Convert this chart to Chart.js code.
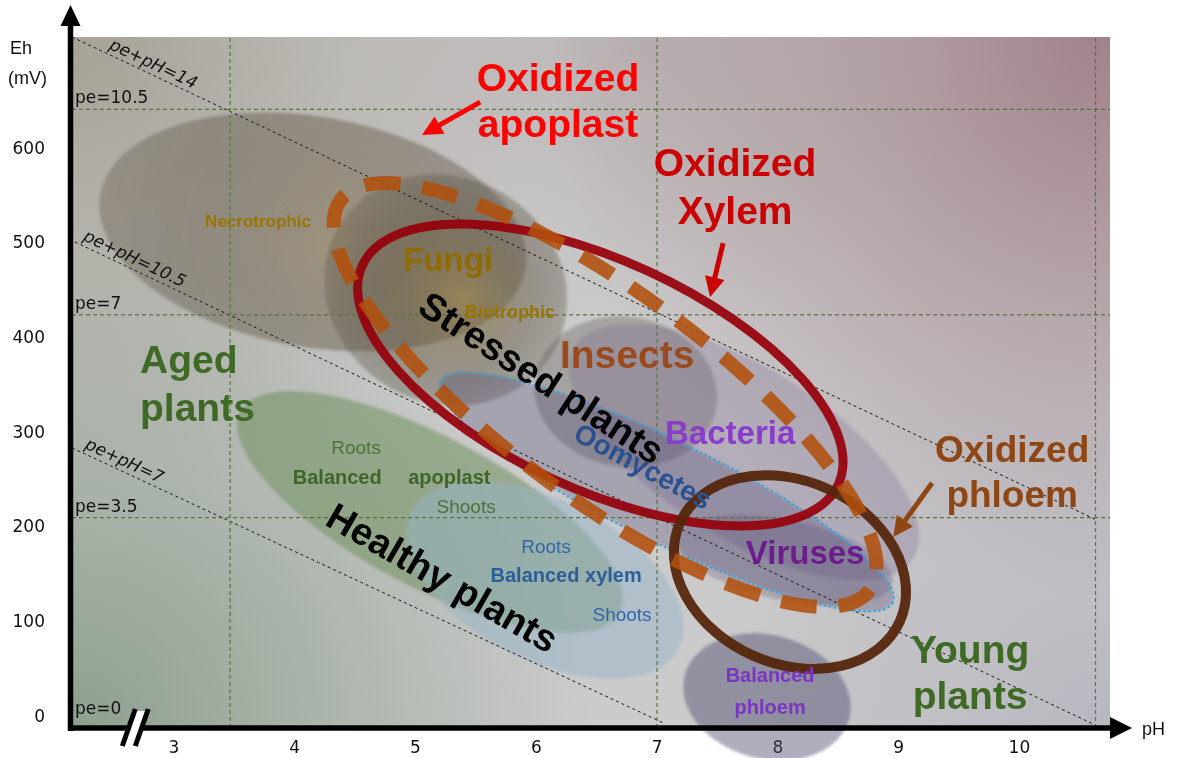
<!DOCTYPE html>
<html>
<head>
<meta charset="utf-8">
<script src="https://cdn.jsdelivr.net/npm/chart.js@4.4.0/dist/chart.umd.min.js"></script>
<style>
  html, body { margin: 0; padding: 0; background: #fff; }
  #wrap { width: 1178px; height: 758px; }
</style>
</head>
<body>
<div id="wrap"><canvas id="chart" width="1178" height="758"></canvas></div>
<script>
// axis ranges and ticks
const phRange = [2.156, 10.75];
const ehRange = [-11.2, 718.5];
const phTicks = [3, 4, 5, 6, 7, 8, 9, 10];
const ehTicks = [0, 100, 200, 300, 400, 500, 600];

// pe = constant guide lines (Eh, mV)
const peNames = ["pe=10.5", "pe=7", "pe=3.5", "pe=0"];
const peEh = [642, 425, 211, -11.2];
// vertical guide lines (pH)
const guidePH = [3.465, 7.0, 10.63];

// pe + pH = constant lines, start and end points
const diagNames = ["pe+pH=14", "pe+pH=10.5", "pe+pH=7"];
const diagStartPH = [2.156, 2.181, 2.156];
const diagStartEh = [718.5, 502, 284.6];
const diagEndPH = [10.64, 10.61, 7.05];
const diagEndEh = [208.4, -7, -5.7];

// regions: centre, end of major axis, end of minor axis (pH, Eh)
const regionNames = ["necrotrophic", "fungi", "insects", "bacteria", "oomycetes", "viruses",
  "apoplastBal", "xylemBal", "phloemBal", "xylemOx", "phloemOx", "apoplastOx"];
const regionPH = [4.15, 5.25, 6.74, 7.72, 7.08, 8.06, 5.12, 6.07, 7.91, 6.53, 8.10, 6.57];
const regionEh = [512.6, 451.3, 343.6, 280.0, 238.0, 166.2, 216.9, 145.1, 21.5, 361.6, 153.5, 340.4];
const majorPH = [5.91, 6.14, 7.49, 9.12, 8.95, 8.95, 6.69, 7.18, 8.59, 8.50, 9.01, 8.76];
const majorEh = [473.2, 385.3, 326.7, 168.0, 121.4, 142.0, 110.3, 73.2, -1.7, 245.9, 101.4, 134.4];
const minorPH = [3.99, 4.78, 6.63, 7.35, 6.89, 7.99, 4.83, 5.77, 7.78, 6.13, 7.79, 6.06];
const minorEh = [392.9, 348.9, 265.6, 203.9, 190.6, 124.9, 147.0, 69.8, -41.7, 252.2, 65.5, 252.9];

// callout arrows
const arrowFromPH = [5.535, 7.547, 9.277];
const arrowFromEh = [649.8, 500.9, 247.5];
const arrowToPH = [5.054, 7.439, 8.955];
const arrowToEh = [615.0, 443.9, 190.5];
const arrowColors = ["#ff0000", "#cc0000", "#8e4614"];

const regionStyle = {
  necrotrophic: { fill: "rgba(108,98,84,0.4)", core: "rgba(165,128,50,0.22)" },
  fungi: { fill: "rgba(100,90,72,0.34)", core: "rgba(175,135,45,0.42)" },
  insects: { fill: "rgba(88,80,76,0.32)" },
  bacteria: { fill: "rgba(118,100,145,0.28)" },
  oomycetes: { fill: "rgba(60,50,105,0.26)", stroke: "#1ea5ea", width: 2, dash: [2, 3] },
  viruses: { fill: "rgba(90,80,110,0.28)" },
  apoplastBal: { fill: "rgba(105,140,85,0.5)" },
  xylemBal: { fill: "rgba(150,180,200,0.5)" },
  phloemBal: { fill: "rgba(75,75,110,0.45)" },
  xylemOx: { stroke: "rgba(150,0,10,0.92)", width: 9 },
  phloemOx: { stroke: "rgba(85,38,12,0.95)", width: 10 },
  apoplastOx: { stroke: "rgba(178,80,12,0.88)", width: 14, dash: [36, 22] }
};

const sans = "\"Liberation Sans\", Arial, sans-serif";
const dejavu = "\"DejaVu Sans\", sans-serif";

// text labels: text, pH, Eh, font, colour, rotation (deg), align
const labels = [
  ["Oxidized", 6.18, 673, "bold 39px", "#ff0000", 0],
  ["apoplast", 6.18, 624.5, "bold 39px", "#ff0000", 0],
  ["Oxidized", 7.646, 583.3, "bold 39px", "#cc0000", 0],
  ["Xylem", 7.646, 532.6, "bold 39px", "#cc0000", 0],
  ["Oxidized", 9.94, 280.3, "bold 37px", "#8e4614", 0],
  ["phloem", 9.94, 232.7, "bold 37px", "#8e4614", 0],
  ["Necrotrophic", 3.696, 523.1, "bold 17px", "#9a7400", 0],
  ["Fungi", 5.27, 480.9, "bold 33px", "#8f6b00", 0],
  ["Biotrophic", 5.783, 427, "bold 18px", "#9a7400", 0],
  ["Insects", 6.752, 380.6, "bold 39px", "#9a4a1c", 0],
  ["Bacteria", 7.605, 298.2, "bold 33px", "#8a3ccc", 0],
  ["Oomycetes", 6.876, 263.4, "bold 28px", "#29508f", 28],
  ["Viruses", 8.226, 171.5, "bold 33px", "#6c1c8c", 0],
  ["Stressed plants", 6.031, 356.3, "bold 38px", "#000000", 33],
  ["Healthy plants", 5.212, 145.1, "bold 38px", "#000000", 30],
  ["Aged", 2.719, 375.3, "bold 39px", "#3e6a26", 0, "left"],
  ["plants", 2.719, 324.6, "bold 39px", "#3e6a26", 0, "left"],
  ["Young", 9.592, 69.1, "bold 39px", "#3e6a26", 0],
  ["plants", 9.592, 20.5, "bold 39px", "#3e6a26", 0],
  ["Roots", 4.508, 283.4, "19px", "#4d7339", 0],
  ["Balanced", 4.352, 252.8, "bold 20px", "#3f6528", 0],
  ["apoplast", 5.28, 252.8, "bold 20px", "#3f6528", 0],
  ["Shoots", 5.419, 221.1, "19px", "#4d7339", 0],
  ["Roots", 6.081, 178.9, "19px", "#3466a6", 0],
  ["Balanced xylem", 6.247, 148.3, "bold 20px", "#2a5f9a", 0],
  ["Shoots", 6.71, 107.1, "19px", "#3466a6", 0],
  ["Balanced", 7.936, 42.7, "bold 20px", "#7b35c0", 0],
  ["phloem", 7.936, 9.9, "bold 20px", "#7b35c0", 0]
];

const datasets = [];
peEh.forEach((eh) => {
  datasets.push({ data: [{ x: phRange[0], y: eh }, { x: phRange[1], y: eh }],
    borderColor: "#5b7341", borderWidth: 1.2, borderDash: [4, 3] });
});
guidePH.forEach((ph) => {
  datasets.push({ data: [{ x: ph, y: ehRange[0] }, { x: ph, y: ehRange[1] }],
    borderColor: "#5b7341", borderWidth: 1.2, borderDash: [4, 3] });
});
diagNames.forEach((name, i) => {
  datasets.push({ data: [{ x: diagStartPH[i], y: diagStartEh[i] }, { x: diagEndPH[i], y: diagEndEh[i] }],
    borderColor: "#1a1a1a", borderWidth: 1, borderDash: [3, 3] });
});
datasets.forEach((d) => { d.showLine = true; d.pointRadius = 0; d.fill = false; });

function regionPath(ctx, i, sx, sy) {
  const cx = sx.getPixelForValue(regionPH[i]);
  const cy = sy.getPixelForValue(regionEh[i]);
  const ax = sx.getPixelForValue(majorPH[i]) - cx;
  const ay = sy.getPixelForValue(majorEh[i]) - cy;
  const bx = sx.getPixelForValue(minorPH[i]) - cx;
  const by = sy.getPixelForValue(minorEh[i]) - cy;
  const a = Math.hypot(ax, ay);
  ctx.beginPath();
  ctx.ellipse(cx, cy, a, Math.hypot(bx, by), Math.atan2(ay, ax), 0, Math.PI * 2);
  return { cx, cy, a };
}

function drawArrow(ctx, x1, y1, x2, y2, color) {
  const ang = Math.atan2(y2 - y1, x2 - x1);
  const head = 18;
  ctx.save();
  ctx.strokeStyle = color;
  ctx.fillStyle = color;
  ctx.lineWidth = 5;
  ctx.beginPath();
  ctx.moveTo(x1, y1);
  ctx.lineTo(x2 - head * Math.cos(ang), y2 - head * Math.sin(ang));
  ctx.stroke();
  ctx.translate(x2, y2);
  ctx.rotate(ang);
  ctx.beginPath();
  ctx.moveTo(0, 0);
  ctx.lineTo(-head - 2, -10);
  ctx.lineTo(-head - 2, 10);
  ctx.closePath();
  ctx.fill();
  ctx.restore();
}

const decor = {
  id: "decor",
  beforeDraw(chart) {
    const { ctx, chartArea: ca } = chart;
    const w = ca.right - ca.left, h = ca.bottom - ca.top;
    ctx.save();
    ctx.fillStyle = "#cbcbcb";
    ctx.fillRect(ca.left, ca.top, w, h);
    const spots = [
      [ca.right, ca.top, 560, "rgba(150,112,122,0.8)"],
      [ca.left + w * 0.55, ca.top, 300, "rgba(165,150,152,0.45)"],
      [ca.left, ca.top, 480, "rgba(150,144,128,0.7)"],
      [ca.left, ca.bottom, 520, "rgba(122,145,122,0.75)"],
      [ca.right, ca.bottom, 420, "rgba(165,165,182,0.5)"]
    ];
    spots.forEach(([x, y, r, c]) => {
      const g = ctx.createRadialGradient(x, y, 0, x, y, r);
      g.addColorStop(0, c);
      g.addColorStop(1, c.replace(/[\d.]+\)$/, "0)"));
      ctx.fillStyle = g;
      ctx.fillRect(ca.left, ca.top, w, h);
    });
    ctx.restore();
  },
  beforeDatasetsDraw(chart) {
    const { ctx, scales: { x, y } } = chart;
    ctx.save();
    ctx.filter = "blur(1.5px)";
    regionNames.forEach((name, i) => {
      const st = regionStyle[name];
      if (!st.fill) return;
      const p = regionPath(ctx, i, x, y);
      ctx.fillStyle = st.fill;
      ctx.fill();
      if (st.core) {
        const g = ctx.createRadialGradient(p.cx + p.a * 0.15, p.cy + 10, 0, p.cx, p.cy, p.a);
        g.addColorStop(0, st.core);
        g.addColorStop(1, "rgba(0,0,0,0)");
        ctx.fillStyle = g;
        ctx.fill();
      }
    });
    ctx.restore();
  },
  afterDatasetsDraw(chart) {
    const { ctx, chartArea: ca, scales: { x, y } } = chart;
    ctx.save();
    // region outlines
    regionNames.forEach((name, i) => {
      const st = regionStyle[name];
      if (!st.stroke) return;
      regionPath(ctx, i, x, y);
      ctx.strokeStyle = st.stroke;
      ctx.lineWidth = st.width;
      ctx.setLineDash(st.dash || []);
      ctx.stroke();
    });
    ctx.setLineDash([]);

    // pe labels
    ctx.fillStyle = "#111";
    ctx.font = "17px " + dejavu;
    ctx.textAlign = "left";
    ctx.textBaseline = "alphabetic";
    peNames.forEach((name, i) => {
      const py = Math.min(y.getPixelForValue(peEh[i]) - 6, ca.bottom - 14);
      ctx.fillText(name, ca.left + 3, py);
    });
    // pe+pH labels along their lines
    ctx.font = "italic 17px " + dejavu;
    const diagOffset = [34, 8, 10];
    diagNames.forEach((name, i) => {
      const x1 = x.getPixelForValue(diagStartPH[i]), y1 = y.getPixelForValue(diagStartEh[i]);
      const x2 = x.getPixelForValue(diagEndPH[i]), y2 = y.getPixelForValue(diagEndEh[i]);
      const ang = Math.atan2(y2 - y1, x2 - x1);
      const px = ca.left + diagOffset[i];
      const py = y1 + (px - x1) * (y2 - y1) / (x2 - x1);
      ctx.save();
      ctx.translate(px, py);
      ctx.rotate(ang);
      ctx.fillText(name, 0, -5);
      ctx.restore();
    });

    // region labels
    ctx.textBaseline = "middle";
    labels.forEach(([text, ph, eh, font, color, rot, align]) => {
      ctx.save();
      ctx.translate(x.getPixelForValue(ph), y.getPixelForValue(eh));
      ctx.rotate((rot * Math.PI) / 180);
      ctx.font = font + " " + sans;
      ctx.fillStyle = color;
      ctx.textAlign = align || "center";
      ctx.fillText(text, 0, 0);
      ctx.restore();
    });

    // callout arrows
    arrowColors.forEach((c, i) => {
      drawArrow(ctx, x.getPixelForValue(arrowFromPH[i]), y.getPixelForValue(arrowFromEh[i]),
        x.getPixelForValue(arrowToPH[i]), y.getPixelForValue(arrowToEh[i]), c);
    });
    ctx.restore();
  },
  afterDraw(chart) {
    const { ctx, chartArea: ca, scales: { x } } = chart;
    ctx.save();
    ctx.fillStyle = "#000";
    ctx.strokeStyle = "#000";
    // y axis with arrow
    const ax = ca.left - 1.5;
    ctx.lineWidth = 5.5;
    ctx.beginPath();
    ctx.moveTo(ax, ca.bottom + 3);
    ctx.lineTo(ax, 22);
    ctx.stroke();
    ctx.beginPath();
    ctx.moveTo(ax, 5);
    ctx.lineTo(ax - 10, 26);
    ctx.lineTo(ax + 10, 26);
    ctx.closePath();
    ctx.fill();
    // x axis with arrow
    const ay = ca.bottom;
    ctx.beginPath();
    ctx.moveTo(ax - 2.5, ay);
    ctx.lineTo(1114, ay);
    ctx.stroke();
    ctx.beginPath();
    ctx.moveTo(1132, ay);
    ctx.lineTo(1110, ay - 11);
    ctx.lineTo(1110, ay + 11);
    ctx.closePath();
    ctx.fill();
    // axis break
    const bx = x.getPixelForValue(2.68);
    ctx.fillStyle = "#fff";
    ctx.beginPath();
    ctx.moveTo(bx, ay - 17);
    ctx.lineTo(bx + 12, ay - 17);
    ctx.lineTo(bx, ay + 17);
    ctx.lineTo(bx - 12, ay + 17);
    ctx.closePath();
    ctx.fill();
    ctx.lineWidth = 5;
    [-6.5, 6.5].forEach((d) => {
      ctx.beginPath();
      ctx.moveTo(bx + d + 6.5, ay - 19);
      ctx.lineTo(bx + d - 6.5, ay + 18);
      ctx.stroke();
    });
    // axis titles
    ctx.fillStyle = "#111";
    ctx.font = "18px " + sans;
    ctx.textAlign = "left";
    ctx.textBaseline = "middle";
    ctx.fillText("Eh", 10, 49);
    ctx.fillText("(mV)", 8, 79);
    ctx.fillText("pH", 1142, 730);
    ctx.restore();
  }
};

function noPad(s) {
  s.paddingTop = 0; s.paddingBottom = 0; s.paddingLeft = 0; s.paddingRight = 0;
}

new Chart(document.getElementById("chart"), {
  type: "scatter",
  data: { datasets },
  options: {
    responsive: false,
    animation: false,
    layout: { padding: { top: 37, right: 68, left: 0, bottom: 0 } },
    plugins: { legend: { display: false }, tooltip: { enabled: false } },
    scales: {
      x: {
        type: "linear",
        min: phRange[0],
        max: phRange[1],
        grid: { display: false, drawTicks: false },
        border: { display: false },
        afterBuildTicks: (s) => { s.ticks = phTicks.map((v) => ({ value: v })); },
        afterFit: (s) => { s.height = 30; noPad(s); },
        ticks: { font: { family: "DejaVu Sans", size: 17 }, color: "#111", padding: 10, autoSkip: false, maxRotation: 0 }
      },
      y: {
        type: "linear",
        min: ehRange[0],
        max: ehRange[1],
        grid: { display: false, drawTicks: false },
        border: { display: false },
        afterBuildTicks: (s) => { s.ticks = ehTicks.map((v) => ({ value: v })); },
        afterFit: (s) => { s.width = 72; noPad(s); },
        ticks: { font: { family: "DejaVu Sans", size: 17 }, color: "#111", padding: 27, autoSkip: false }
      }
    }
  },
  plugins: [decor]
});
</script>
</body>
</html>
